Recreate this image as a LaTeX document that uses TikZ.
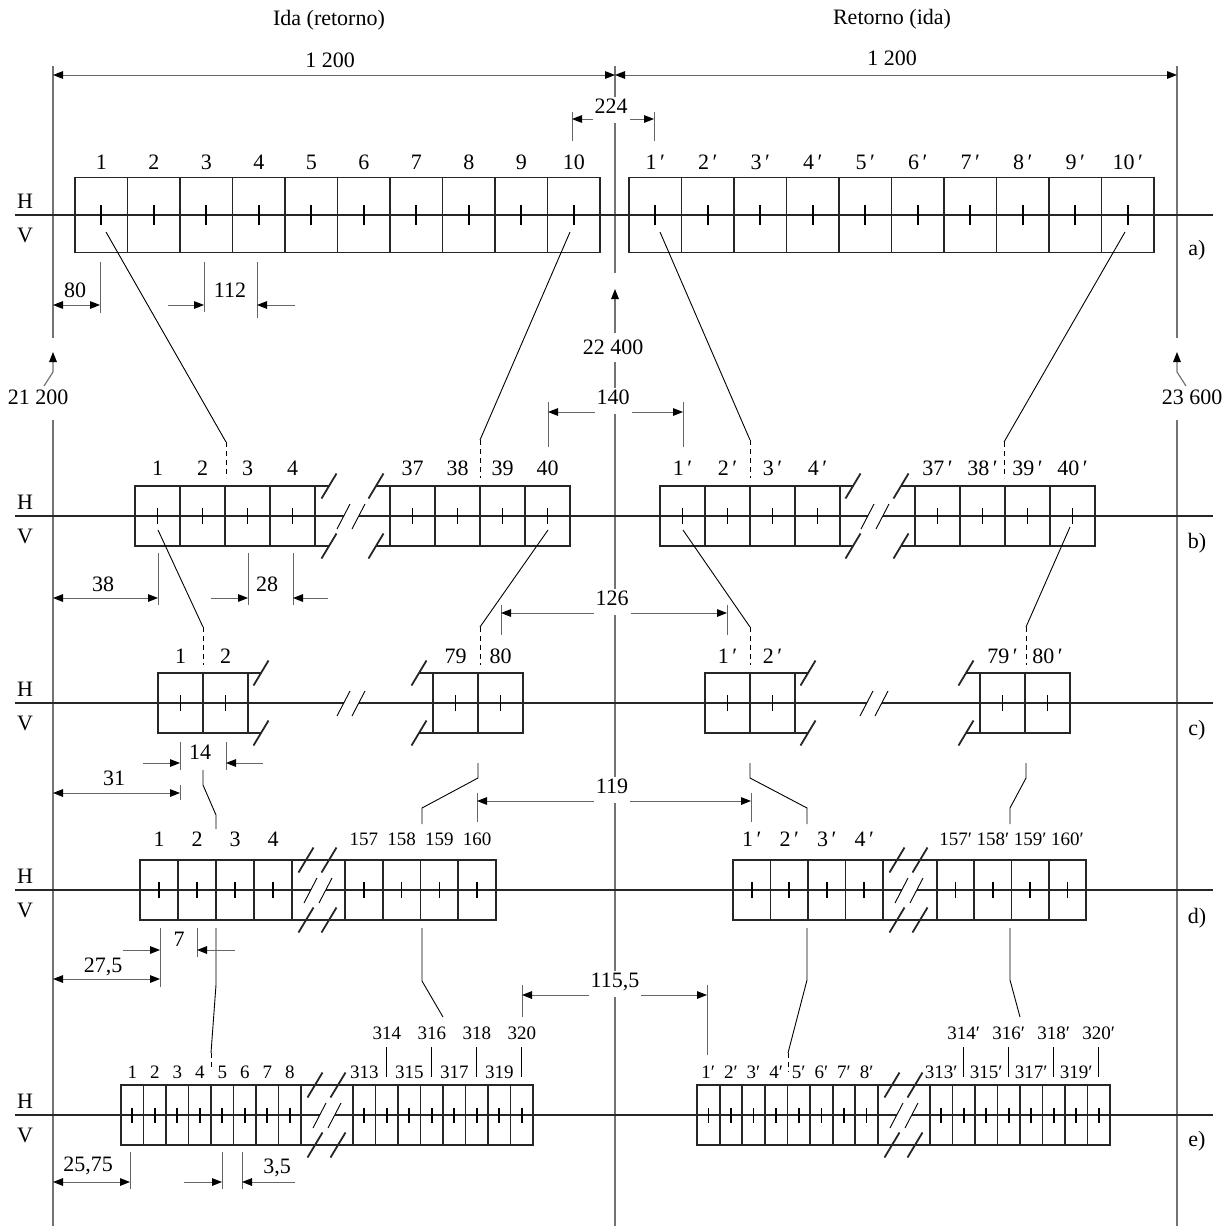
\documentclass[tikz,border=0pt]{standalone}
\usepackage{fontspec}
\setmainfont{Liberation Serif}
\usetikzlibrary{arrows.meta}

\newcommand*{\yA}{215}
\newcommand*{\yB}{516}
\newcommand*{\yC}{703}
\newcommand*{\yD}{890}
\newcommand*{\yE}{1115}
\newcommand*{\xL}{53}
\newcommand*{\xM}{615}
\newcommand*{\xR}{1177}

\tikzset{
  every node/.style={font=\fontsize{11}{13}\selectfont},
  cell/.style={line width=0.9pt, draw=black!85},
  hv/.style={line width=0.9pt, draw=black!85},
  tk/.style={line width=0.8pt},
  lead/.style={line width=0.45pt},
  gapline/.style={lead, dash pattern=on 2.5pt off 2pt},
  ref/.style={line width=0.6pt, draw=black!55},
  dim/.style={line width=0.5pt, draw=black!60},
  darr/.style={dim, ->},
  dd/.style={dim, <->},
  sm/.style={font=\fontsize{9.5}{11}\selectfont},
  dlab/.style={fill=white, inner sep=1pt, text depth=3.5pt, anchor=south},
}

% boxes: left, width, count, line, half height, tick half
\newcommand*{\cells}[6]{%
  \foreach \k in {1,...,#3} {
    \draw[cell] ({#1+(\k-1)*#2},{#4-#5}) rectangle ({#1+\k*#2},{#4+#5});
    \draw[tk] ({#1+(\k-0.5)*#2},{#4-#6}) -- ({#1+(\k-0.5)*#2},{#4+#6});
  }}
\newcommand*{\eslash}[2]{\draw[cell] ({#1-7.5},{#2+12.5}) -- ({#1+7.5},{#2-12.5});}
\newcommand*{\hbreak}[2]{%
  \fill[white] ({#1},{#2+13}) -- ({#1+13},{#2-12}) -- ({#1+28},{#2-12}) -- ({#1+15},{#2+13}) -- cycle;
  \draw[lead] ({#1},{#2+13}) -- ({#1+13},{#2-12}) ({#1+15},{#2+13}) -- ({#1+28},{#2-12});}
\newcommand*{\gend}[2]{%
  \draw[cell] (#1,{#2-30}) -- ({#1+13},{#2-30}) (#1,{#2+30}) -- ({#1+13},{#2+30});
  \eslash{#1+13}{#2-30}\eslash{#1+13}{#2+30}}
\newcommand*{\gstart}[2]{%
  \draw[cell] (#1,{#2-30}) -- ({#1-14},{#2-30}) (#1,{#2+30}) -- ({#1-14},{#2+30});
  \eslash{#1-14}{#2-30}\eslash{#1-14}{#2+30}}
\newcommand*{\dbreak}[3]{%
  \draw[cell] (#1,{#3-30}) -- (#2,{#3-30}) (#1,{#3+30}) -- (#2,{#3+30});
  \eslash{#1+14}{#3-30}\eslash{#1+37}{#3-30}
  \eslash{#1+14}{#3+30}\eslash{#1+37}{#3+30}
  \hbreak{#1+12}{#3}}

\begin{document}
\begin{tikzpicture}[x=0.5pt,y=-0.5pt,>={Triangle[length=5pt,width=3.8pt,color=black]}]
	\useasboundingbox (0,0) rectangle (1226,1226);

	\node (ida) at (329,20) {Ida (retorno)};
	\node (ret) at (892,19) {Retorno (ida)};

	% reference lines
	\draw[ref] (\xL,66) -- (\xL,338) (\xL,420) -- (\xL,1226);
	\draw[ref] (\xM,66) -- (\xM,273) (\xM,362) -- (\xM,1226);
	\draw[ref] (\xR,66) -- (\xR,338) (\xR,420) -- (\xR,1226);
	\draw[ref,->] (44,386) -- (\xL,372) -- (\xL,352);
	\draw[ref,->] (\xM,333) -- (\xM,289);
	\draw[ref,->] (1186,386) -- (\xR,372) -- (\xR,352);
	\node (k21) at (38,397) {21 200};
	\node (k22) at (613,347) {22 400};
	\node (k23) at (1192,397) {23 600};

	% H-V lines
	\foreach \y in {\yA,\yB,\yC,\yD,\yE} {
		\draw[hv] (15,\y) -- (1213,\y);
	}
	\foreach \r/\y/\t in {a/\yA/250,b/\yB/543,c/\yC/730,d/\yD/918,e/\yE/1141} {
		\node (H\r) at (25,\y-14) {H};
		\node (V\r) at (25,\y+20) {V};
		\node (tag\r) at (1197,\t) {\r)};
	}

	% a)
	\cells{75}{52.5}{10}{\yA}{37.5}{10}
	\cells{629}{52.5}{10}{\yA}{37.5}{10}
	\foreach \k in {1,...,10} {
		\node (a\k) at ({75+(\k-0.5)*52.5},162) {\k};
		\node (ap\k) at ({629+(\k-0.5)*52.5},162) {\k\,′};
	}

	% b)
	\cells{135}{45}{4}{\yB}{30}{8}
	\cells{390}{45}{4}{\yB}{30}{8}
	\cells{660}{45}{4}{\yB}{30}{8}
	\cells{915}{45}{4}{\yB}{30}{8}
	\gend{316}{\yB}\hbreak{337}{\yB}\gstart{390}{\yB}
	\gend{840}{\yB}\hbreak{861}{\yB}\gstart{915}{\yB}
	\foreach \k in {1,...,4} {
		\pgfmathtruncatemacro{\nn}{\k+36}
		\node (b\k) at ({135+(\k-0.5)*45},468) {\k};
		\node (b\nn) at ({390+(\k-0.5)*45},468) {\nn};
		\node (bp\k) at ({660+(\k-0.5)*45},468) {\k\,′};
		\node (bp\nn) at ({915+(\k-0.5)*45},468) {\nn\,′};
	}

	% c)
	\cells{158}{45}{2}{\yC}{30}{8}
	\cells{433}{45}{2}{\yC}{30}{8}
	\cells{705}{45}{2}{\yC}{30}{8}
	\cells{980}{45}{2}{\yC}{30}{8}
	\gend{248}{\yC}\hbreak{337}{\yC}\gstart{433}{\yC}
	\gend{795}{\yC}\hbreak{860}{\yC}\gstart{980}{\yC}
	\node (c1) at (180.5,656) {1};
	\node (c2) at (225.5,656) {2};
	\node (c79) at (455.5,656) {79};
	\node (c80) at (500.5,656) {80};
	\node (cp1) at (727.5,656) {1\,′};
	\node (cp2) at (772.5,656) {2\,′};
	\node (cp79) at (1002.5,656) {79\,′};
	\node (cp80) at (1047.5,656) {80\,′};

	% d)
	\cells{140}{38}{4}{\yD}{30}{8}
	\cells{345}{37.75}{4}{\yD}{30}{8}
	\cells{733}{37.5}{4}{\yD}{30}{8}
	\cells{937}{37.25}{4}{\yD}{30}{8}
	\dbreak{292}{345}{\yD}
	\dbreak{883}{937}{\yD}
	\foreach \k in {1,...,4} {
		\pgfmathtruncatemacro{\nn}{\k+156}
		\node (d\k) at ({140+(\k-0.5)*38},839) {\k};
		\node[sm] (d\nn) at ({345+(\k-0.5)*37.75},839) {\nn};
		\node (dp\k) at ({733+(\k-0.5)*37.5},839) {\k\,′};
		\node[sm] (dp\nn) at ({937+(\k-0.5)*37.25},839) {\nn′};
	}

	% e)
	\cells{121}{22.5}{8}{\yE}{30}{7.5}
	\cells{353}{22.5}{8}{\yE}{30}{7.5}
	\cells{697}{22.625}{8}{\yE}{30}{7.5}
	\cells{930}{22.5}{8}{\yE}{30}{7.5}
	\dbreak{301}{353}{\yE}
	\dbreak{878}{930}{\yE}
	\foreach \k in {1,...,8} {
		\node[sm] (e\k) at ({121+(\k-0.5)*22.5},1072) {\k};
		\node[sm] (ep\k) at ({697+(\k-0.5)*22.625},1072) {\k′};
	}
	\foreach \k in {313,315,317,319} {
		\node[sm] (e\k) at ({353+(\k-312.5)*22.5},1072) {\k};
		\node[sm] (ep\k) at ({930+(\k-312.5)*22.5},1072) {\k′};
	}
	\foreach \k in {314,316,318,320} {
		\node[sm] (e\k) at ({353+(\k-312.5)*22.5},1033) {\k};
		\node[sm] (ep\k) at ({930+(\k-312.5)*22.5},1033) {\k′};
		\draw[lead] ({353+(\k-312.5)*22.5},1047) -- ({353+(\k-312.5)*22.5},1077);
		\draw[lead] ({930+(\k-312.5)*22.5},1047) -- ({930+(\k-312.5)*22.5},1077);
	}

	% leaders a -> b
	\draw[lead] (106,232) -- (226,442);
	\draw[gapline] (226,442) -- (226,478);
	\draw[lead] (570,232) -- (480,440);
	\draw[gapline] (480,440) -- (480,478);
	\draw[lead] (660,232) -- (750,440);
	\draw[gapline] (750,440) -- (750,478);
	\draw[lead] (1125,232) -- (1004,442);
	\draw[gapline] (1004,442) -- (1004,478);
	% leaders b -> c
	\draw[lead] (158,530) -- (203,627);
	\draw[gapline] (203,627) -- (203,665);
	\draw[lead] (548,530) -- (480,627);
	\draw[gapline] (480,627) -- (480,665);
	\draw[lead] (683,530) -- (750,627);
	\draw[gapline] (750,627) -- (750,665);
	\draw[lead] (1070,527) -- (1026,627);
	\draw[gapline] (1026,627) -- (1026,665);
	% leaders c -> d
	\draw[lead] (203,770) -- (203,785) -- (216,815) -- (216,829);
	\draw[lead] (478,763) -- (478,778) -- (422,808) -- (422,824);
	\draw[lead] (750,763) -- (750,778) -- (807,808) -- (807,824);
	\draw[lead] (1026,763) -- (1026,778) -- (1010,808) -- (1010,824);
	% leaders d -> e
	\draw[lead] (216,928) -- (216,985) -- (211,1053);
	\draw[gapline] (211,1053) -- (211,1070);
	\draw[lead] (422,928) -- (422,981) -- (443,1017);
	\draw[lead] (807,928) -- (807,980) -- (788,1053);
	\draw[gapline] (788,1053) -- (788,1072);
	\draw[lead] (1010,928) -- (1010,980) -- (1020,1017);

	% dimensions
	\draw[dd] (\xL,75) -- (\xM,75);
	\draw[dd] (\xM,75) -- (\xR,75);
	\node (w1) at (330,60) {1 200};
	\node (w2) at (892,58) {1 200};

	\draw[dim] (572,112) -- (572,141) (654,112) -- (654,141);
	\draw[dd] (572,119) -- (654,119);
	\node[dlab] (d224) at (611,123) {224};

	\draw[dim] (100,262) -- (100,313);
	\draw[dd] (\xL,305) -- (100,305);
	\node (d80) at (75,290) {80};
	\draw[dim] (204,262) -- (204,312) (257,262) -- (257,318);
	\draw[darr] (168,305) -- (204,305);
	\draw[darr] (295,305) -- (257,305);
	\node (d112) at (230,290) {112};

	\draw[dim] (548,402) -- (548,447) (683,402) -- (683,447);
	\draw[dd] (548,412) -- (683,412);
	\node[dlab] (d140) at (613,414) {140};

	\draw[dim] (158,553) -- (158,605);
	\draw[dd] (\xL,598) -- (158,598);
	\node (d38) at (103,584) {38};
	\draw[dim] (248,553) -- (248,605) (293,553) -- (293,605);
	\draw[darr] (211,598) -- (248,598);
	\draw[darr] (328,598) -- (293,598);
	\node (d28) at (267,584) {28};

	\draw[dim] (501,605) -- (501,635) (727,605) -- (727,635);
	\draw[dd] (501,613) -- (727,613);
	\node[dlab] (d126) at (612,615) {126};

	\draw[dim] (180,742) -- (180,770) (226,742) -- (226,770);
	\draw[darr] (143,763) -- (180,763);
	\draw[darr] (263,763) -- (226,763);
	\node (d14) at (200,752) {14};
	\draw[dim] (180,785) -- (180,800);
	\draw[dd] (\xL,793) -- (180,793);
	\node (d31) at (114,778) {31};

	\draw[dim] (477,793) -- (477,822) (751,793) -- (751,822);
	\draw[dd] (477,801) -- (751,801);
	\node[dlab] (d119) at (612,803) {119};

	\draw[dim] (160,928) -- (160,987) (197,928) -- (197,957);
	\draw[darr] (123,950) -- (160,950);
	\draw[darr] (235,950) -- (197,950);
	\node (d7) at (179,939) {7};
	\draw[dd] (\xL,979) -- (160,979);
	\node (d275) at (103,967) {27,5};

	\draw[dim] (522,985) -- (522,1017) (707,985) -- (707,1055);
	\draw[dd] (522,995) -- (707,995);
	\node[dlab] (d1155) at (615,997) {115,5};

	\draw[dim] (130,1152) -- (130,1189);
	\draw[dd] (\xL,1182) -- (130,1182);
	\node (d2575) at (88,1166) {25,75};
	\draw[dim] (222,1152) -- (222,1189) (242,1152) -- (242,1189);
	\draw[darr] (184,1182) -- (222,1182);
	\draw[darr] (295,1182) -- (242,1182);
	\node (d35) at (277,1168) {3,5};
\end{tikzpicture}
\end{document}
